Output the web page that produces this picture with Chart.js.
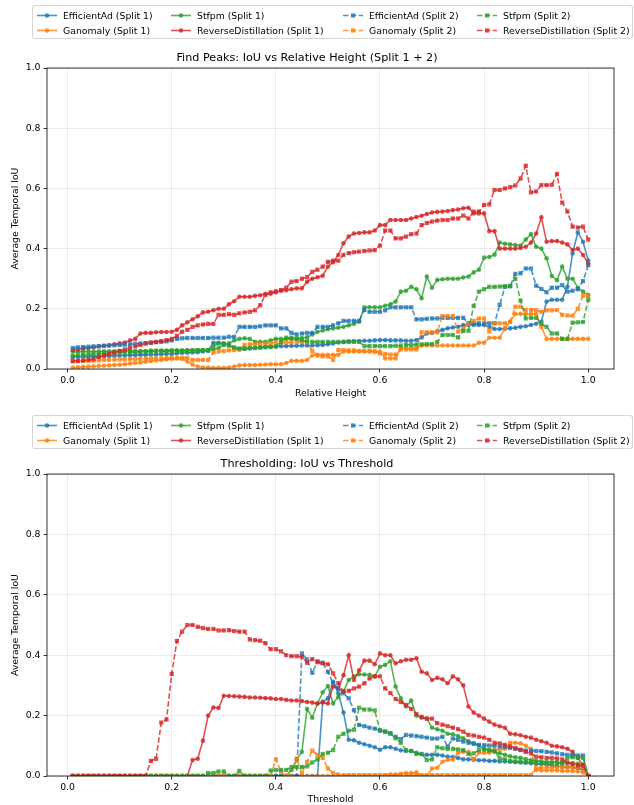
<!DOCTYPE html>
<html>
<head>
<meta charset="utf-8">
<script src="https://cdn.jsdelivr.net/npm/chart.js@4.4.1/dist/chart.umd.min.js"></script>
<style>
body { margin: 0; background: #fff; font-family: 'DejaVu Sans', sans-serif; }
#wrap { position: relative; width: 634px; height: 805px; overflow: hidden; }
canvas { position: absolute; left: 0; }
.legend { position: absolute; left: 32px; width: 601px; height: 34px; box-sizing: border-box;
  border: 1px solid rgba(204,204,204,0.8); border-radius: 3px; background: rgba(255,255,255,0.8); z-index: 2; }
.item { position: absolute; height: 11px; font-size: 9.3px; line-height: 11px; white-space: nowrap; color: #000; }
.item svg { position: absolute; left: 0; top: 0; }
.item span { position: absolute; left: 26px; top: 0; }
</style>
</head>
<body>
<div id="wrap">
  <canvas id="peaks" width="634" height="405" style="top:0"></canvas>
  <canvas id="thresh" width="634" height="400" style="top:405px"></canvas>
  <div class="legend" id="legend1" style="top:5px"></div>
  <div class="legend" id="legend2" style="top:415px"></div>
</div>
<script>
// x values (relative height / threshold)
var xs = [0.01,0.02,0.03,0.04,0.05,0.06,0.07,0.08,0.09,0.10,
  0.11,0.12,0.13,0.14,0.15,0.16,0.17,0.18,0.19,0.20,
  0.21,0.22,0.23,0.24,0.25,0.26,0.27,0.28,0.29,0.30,
  0.31,0.32,0.33,0.34,0.35,0.36,0.37,0.38,0.39,0.40,
  0.41,0.42,0.43,0.44,0.45,0.46,0.47,0.48,0.49,0.50,
  0.51,0.52,0.53,0.54,0.55,0.56,0.57,0.58,0.59,0.60,
  0.61,0.62,0.63,0.64,0.65,0.66,0.67,0.68,0.69,0.70,
  0.71,0.72,0.73,0.74,0.75,0.76,0.77,0.78,0.79,0.80,
  0.81,0.82,0.83,0.84,0.85,0.86,0.87,0.88,0.89,0.90,
  0.91,0.92,0.93,0.94,0.95,0.96,0.97,0.98,0.99,1.00];

var xTicks = [0.0, 0.2, 0.4, 0.6, 0.8, 1.0];
var yTicks = [0.0, 0.2, 0.4, 0.6, 0.8, 1.0];

var models = ['EfficientAd', 'Ganomaly', 'Stfpm', 'ReverseDistillation'];
var splits = ['Split 1', 'Split 2'];

// ---- Find Peaks: IoU vs Relative Height ----
var fpEffS1 = [0.040,0.040,0.041,0.041,0.042,0.042,0.043,0.043,0.044,0.045,
  0.045,0.046,0.046,0.047,0.047,0.048,0.048,0.049,0.050,0.050,
  0.052,0.053,0.054,0.055,0.056,0.058,0.060,0.087,0.087,0.085,
  0.080,0.068,0.066,0.067,0.068,0.070,0.072,0.074,0.075,0.075,
  0.076,0.076,0.077,0.077,0.078,0.078,0.078,0.079,0.080,0.082,
  0.085,0.088,0.090,0.092,0.093,0.093,0.094,0.094,0.095,0.096,
  0.096,0.095,0.095,0.095,0.094,0.094,0.096,0.105,0.118,0.120,
  0.125,0.130,0.135,0.138,0.140,0.146,0.146,0.146,0.146,0.146,
  0.140,0.133,0.133,0.134,0.135,0.137,0.140,0.142,0.146,0.150,
  0.157,0.224,0.230,0.230,0.230,0.273,0.384,0.454,0.423,0.360];
var fpGanS1 = [0.005,0.006,0.007,0.008,0.009,0.010,0.011,0.012,0.013,0.014,
  0.016,0.018,0.020,0.022,0.024,0.026,0.028,0.030,0.032,0.034,
  0.035,0.033,0.025,0.015,0.008,0.005,0.005,0.004,0.004,0.004,
  0.005,0.008,0.012,0.013,0.013,0.013,0.014,0.015,0.016,0.016,
  0.016,0.020,0.027,0.027,0.027,0.030,0.045,0.047,0.047,0.047,
  0.047,0.047,0.058,0.058,0.058,0.058,0.058,0.058,0.058,0.058,
  0.035,0.035,0.035,0.069,0.069,0.069,0.069,0.078,0.078,0.078,
  0.078,0.078,0.078,0.078,0.078,0.078,0.078,0.078,0.087,0.087,
  0.104,0.104,0.104,0.135,0.157,0.183,0.183,0.183,0.183,0.183,
  0.140,0.100,0.100,0.100,0.100,0.100,0.100,0.100,0.100,0.100];
var fpStfS1 = [0.057,0.057,0.058,0.058,0.058,0.058,0.059,0.059,0.059,0.060,
  0.060,0.060,0.060,0.060,0.060,0.061,0.061,0.061,0.061,0.062,
  0.062,0.062,0.062,0.062,0.063,0.063,0.063,0.065,0.070,0.080,
  0.085,0.095,0.100,0.102,0.100,0.090,0.090,0.090,0.095,0.100,
  0.100,0.100,0.100,0.102,0.103,0.105,0.115,0.124,0.128,0.132,
  0.135,0.137,0.140,0.145,0.150,0.157,0.205,0.205,0.205,0.205,
  0.210,0.215,0.224,0.257,0.260,0.273,0.265,0.235,0.307,0.270,
  0.296,0.298,0.300,0.300,0.300,0.304,0.307,0.321,0.330,0.370,
  0.372,0.380,0.420,0.416,0.414,0.412,0.410,0.430,0.448,0.406,
  0.400,0.368,0.309,0.295,0.340,0.300,0.300,0.270,0.257,0.246];
var fpRdS1 = [0.063,0.065,0.068,0.070,0.072,0.075,0.077,0.079,0.082,0.085,
  0.088,0.095,0.100,0.118,0.120,0.120,0.122,0.123,0.123,0.124,
  0.130,0.145,0.155,0.165,0.175,0.188,0.190,0.195,0.200,0.200,
  0.215,0.225,0.240,0.240,0.240,0.243,0.245,0.250,0.250,0.255,
  0.260,0.262,0.265,0.268,0.268,0.290,0.300,0.305,0.310,0.340,
  0.355,0.379,0.418,0.440,0.450,0.452,0.454,0.454,0.460,0.478,
  0.478,0.495,0.495,0.495,0.495,0.500,0.505,0.509,0.515,0.520,
  0.522,0.523,0.525,0.528,0.530,0.534,0.536,0.517,0.517,0.517,
  0.458,0.458,0.400,0.400,0.400,0.400,0.402,0.406,0.420,0.450,
  0.504,0.423,0.425,0.425,0.420,0.414,0.395,0.400,0.379,0.350];
var fpEffS2 = [0.070,0.072,0.073,0.074,0.075,0.076,0.077,0.078,0.079,0.080,
  0.081,0.082,0.084,0.085,0.086,0.087,0.089,0.090,0.092,0.095,
  0.100,0.102,0.103,0.103,0.103,0.103,0.103,0.104,0.104,0.104,
  0.107,0.107,0.140,0.140,0.140,0.140,0.142,0.145,0.145,0.145,
  0.135,0.135,0.120,0.115,0.118,0.120,0.120,0.140,0.140,0.140,
  0.145,0.152,0.160,0.160,0.160,0.160,0.196,0.190,0.190,0.190,
  0.195,0.205,0.205,0.205,0.205,0.205,0.165,0.165,0.167,0.168,
  0.168,0.170,0.170,0.170,0.170,0.170,0.152,0.152,0.152,0.152,
  0.152,0.152,0.213,0.273,0.275,0.316,0.318,0.334,0.334,0.277,
  0.266,0.255,0.270,0.270,0.279,0.257,0.260,0.265,0.292,0.345];
var fpGanS2 = [0.025,0.026,0.027,0.028,0.028,0.029,0.030,0.030,0.031,0.032,
  0.032,0.033,0.033,0.034,0.034,0.035,0.035,0.035,0.036,0.036,
  0.037,0.037,0.037,0.030,0.030,0.030,0.030,0.055,0.058,0.060,
  0.062,0.063,0.065,0.080,0.082,0.083,0.084,0.085,0.086,0.088,
  0.088,0.088,0.089,0.090,0.090,0.090,0.060,0.045,0.042,0.042,
  0.030,0.063,0.063,0.062,0.062,0.060,0.060,0.060,0.058,0.052,
  0.050,0.048,0.048,0.065,0.065,0.065,0.065,0.122,0.122,0.122,
  0.122,0.176,0.176,0.176,0.124,0.135,0.150,0.160,0.168,0.168,
  0.124,0.152,0.152,0.152,0.157,0.207,0.207,0.196,0.196,0.196,
  0.190,0.195,0.195,0.196,0.180,0.178,0.177,0.200,0.243,0.243];
var fpStfS2 = [0.043,0.045,0.047,0.048,0.050,0.051,0.052,0.053,0.054,0.055,
  0.055,0.056,0.056,0.057,0.057,0.058,0.058,0.059,0.059,0.060,
  0.060,0.060,0.061,0.061,0.062,0.062,0.063,0.075,0.085,0.082,
  0.078,0.072,0.068,0.068,0.070,0.070,0.071,0.072,0.073,0.075,
  0.090,0.104,0.104,0.100,0.096,0.092,0.090,0.090,0.090,0.090,
  0.090,0.090,0.090,0.090,0.090,0.090,0.076,0.076,0.076,0.076,
  0.076,0.076,0.077,0.078,0.080,0.080,0.081,0.082,0.083,0.083,
  0.090,0.113,0.113,0.113,0.105,0.127,0.127,0.210,0.257,0.265,
  0.273,0.273,0.274,0.275,0.276,0.300,0.227,0.168,0.170,0.170,
  0.150,0.140,0.118,0.118,0.100,0.100,0.154,0.155,0.156,0.230];
var fpRdS2 = [0.027,0.027,0.028,0.030,0.033,0.040,0.045,0.050,0.055,0.060,
  0.065,0.070,0.075,0.080,0.085,0.088,0.090,0.093,0.096,0.100,
  0.110,0.124,0.130,0.140,0.145,0.148,0.150,0.150,0.180,0.180,
  0.182,0.180,0.185,0.188,0.190,0.195,0.212,0.246,0.255,0.258,
  0.262,0.270,0.290,0.292,0.300,0.305,0.323,0.330,0.340,0.356,
  0.360,0.360,0.379,0.385,0.388,0.390,0.392,0.394,0.395,0.410,
  0.460,0.460,0.434,0.434,0.440,0.448,0.450,0.478,0.485,0.490,
  0.493,0.495,0.495,0.500,0.500,0.510,0.500,0.523,0.523,0.545,
  0.547,0.595,0.595,0.600,0.604,0.610,0.633,0.675,0.587,0.590,
  0.611,0.611,0.612,0.648,0.553,0.523,0.473,0.470,0.473,0.430];

// ---- Thresholding: IoU vs Threshold ----
var thEffS1 = [0,0,0,0,0,0,0,0,0,0,
  0,0,0,0,0,0,0,0,0,0,
  0,0,0,0,0,0,0,0,0,0,
  0,0,0,0,0,0,0,0,0,0,
  0,0,0,0,0,0,0,0,0.246,0.257,
  0.312,0.274,0.210,0.120,0.118,0.110,0.105,0.100,0.095,0.087,
  0.095,0.095,0.090,0.085,0.083,0.083,0.077,0.072,0.070,0.070,
  0.070,0.068,0.064,0.063,0.060,0.055,0.055,0.055,0.052,0.052,
  0.050,0.050,0.048,0.048,0.047,0.046,0.045,0.044,0.042,0.040,
  0.040,0.038,0.035,0.033,0.030,0.030,0.028,0.025,0.022,0.000];
var thGanS1 = [0,0,0,0,0,0,0,0,0,0,
  0,0,0,0,0,0,0,0,0,0,
  0,0,0,0,0,0,0,0,0,0,
  0,0,0,0,0,0,0,0,0,0,
  0,0,0,0,0,0,0,0,0,0,
  0,0,0,0,0,0,0,0,0,0,
  0.002,0.005,0.005,0.007,0.010,0.010,0.012,0.000,0.000,0.025,
  0.027,0.047,0.053,0.055,0.077,0.080,0.080,0.053,0.077,0.077,
  0.077,0.086,0.088,0.090,0.110,0.110,0.108,0.100,0.090,0.020,
  0.018,0.018,0.018,0.018,0.017,0.017,0.016,0.015,0.012,0.000];
var thStfS1 = [0,0,0,0,0,0,0,0,0,0,
  0,0,0,0,0,0,0,0,0,0,
  0,0,0,0,0,0,0,0,0,0,
  0,0,0,0,0,0,0,0,0,0,
  0,0,0.020,0.055,0.080,0.222,0.193,0.240,0.277,0.298,
  0.240,0.262,0.280,0.318,0.330,0.337,0.336,0.335,0.330,0.362,
  0.368,0.380,0.296,0.257,0.230,0.250,0.200,0.193,0.190,0.160,
  0.155,0.150,0.140,0.138,0.132,0.125,0.115,0.108,0.100,0.090,
  0.085,0.080,0.075,0.070,0.065,0.062,0.060,0.056,0.053,0.050,
  0.048,0.047,0.046,0.045,0.044,0.043,0.042,0.040,0.038,0.000];
var thRdS1 = [0,0,0,0,0,0,0,0,0,0,
  0,0,0,0,0,0,0,0,0,0,
  0,0,0,0.053,0.057,0.117,0.200,0.227,0.225,0.266,
  0.265,0.264,0.263,0.262,0.260,0.260,0.259,0.258,0.257,0.255,
  0.255,0.252,0.250,0.250,0.248,0.245,0.243,0.240,0.243,0.240,
  0.296,0.290,0.334,0.400,0.318,0.350,0.382,0.382,0.370,0.406,
  0.400,0.400,0.373,0.380,0.385,0.385,0.390,0.345,0.340,0.318,
  0.325,0.320,0.307,0.330,0.320,0.300,0.230,0.210,0.200,0.190,
  0.180,0.170,0.165,0.160,0.140,0.138,0.135,0.130,0.127,0.120,
  0.115,0.110,0.100,0.098,0.095,0.090,0.080,0.060,0.035,0.000];
var thEffS2 = [0,0,0,0,0,0,0,0,0,0,
  0,0,0,0,0,0,0,0,0,0,
  0,0,0,0,0,0,0,0,0,0,
  0,0,0,0,0,0,0,0,0,0,
  0,0,0,0,0.406,0.386,0.342,0.380,0.375,0.345,
  0.307,0.290,0.274,0.257,0.218,0.169,0.165,0.160,0.157,0.150,
  0.147,0.142,0.130,0.122,0.136,0.134,0.132,0.130,0.127,0.124,
  0.124,0.130,0.097,0.124,0.120,0.114,0.110,0.107,0.103,0.102,
  0.101,0.100,0.098,0.096,0.093,0.090,0.087,0.084,0.084,0.083,
  0.082,0.080,0.078,0.075,0.072,0.070,0.070,0.068,0.068,0.000];
var thGanS2 = [0,0,0,0,0,0,0,0,0,0,
  0,0,0,0,0,0,0,0,0,0,
  0,0,0,0,0,0,0,0,0,0,
  0,0,0,0,0,0,0,0,0,0.055,
  0.015,0.000,0.000,0.058,0.010,0.047,0.084,0.070,0.060,0.025,
  0.010,0.005,0.003,0.003,0.003,0.003,0.003,0.003,0.003,0.003,
  0.003,0.003,0.003,0.003,0.003,0.003,0.003,0.003,0.003,0.003,
  0.003,0.003,0.003,0.003,0.003,0.003,0.003,0.003,0.003,0.003,
  0.003,0.003,0.003,0.003,0.003,0.003,0.003,0.003,0.003,0.025,
  0.027,0.028,0.028,0.028,0.030,0.030,0.030,0.030,0.028,0.000];
var thStfS2 = [0,0,0,0,0,0,0,0,0,0,
  0,0,0,0,0,0,0,0,0,0,
  0,0,0,0,0,0,0.010,0.010,0.015,0.015,
  0.000,0.000,0.017,0.000,0.000,0.000,0.000,0.000,0.018,0.020,
  0.020,0.020,0.030,0.030,0.030,0.032,0.045,0.055,0.073,0.077,
  0.086,0.130,0.140,0.150,0.153,0.226,0.220,0.220,0.217,0.152,
  0.147,0.140,0.125,0.110,0.086,0.083,0.073,0.073,0.053,0.055,
  0.095,0.092,0.090,0.090,0.088,0.086,0.073,0.075,0.086,0.088,
  0.086,0.083,0.058,0.055,0.050,0.048,0.047,0.046,0.045,0.045,
  0.044,0.043,0.042,0.042,0.042,0.060,0.062,0.062,0.060,0.000];
var thRdS2 = [0,0,0,0,0,0,0,0,0,0,
  0,0,0,0,0,0.050,0.057,0.177,0.187,0.338,
  0.447,0.478,0.500,0.500,0.494,0.490,0.487,0.487,0.482,0.482,
  0.483,0.480,0.478,0.478,0.452,0.450,0.448,0.440,0.420,0.420,
  0.413,0.400,0.397,0.397,0.395,0.375,0.387,0.377,0.373,0.370,
  0.340,0.307,0.280,0.282,0.290,0.296,0.307,0.323,0.330,0.330,
  0.290,0.275,0.255,0.245,0.235,0.222,0.205,0.196,0.190,0.190,
  0.175,0.170,0.165,0.160,0.155,0.147,0.136,0.134,0.130,0.127,
  0.120,0.110,0.108,0.103,0.098,0.092,0.086,0.080,0.075,0.064,
  0.062,0.060,0.060,0.058,0.055,0.045,0.040,0.035,0.035,0.000];

var colors = ['rgba(31,119,180,0.8)', 'rgba(255,127,14,0.8)', 'rgba(44,160,44,0.8)', 'rgba(214,39,40,0.8)'];
var font = { family: 'DejaVu Sans', size: 9.3 };
var gridColor = 'rgba(176,176,176,0.3)';

// plot order = legend order (column major, 4 columns)
function buildDatasets(s1, s2) {
  var sets = [];
  var all = [s1, s2];
  for (var s = 0; s < 2; s++) {
    for (var m = 0; m < 4; m++) {
      var vals = all[s][m];
      sets.push({
        label: models[m] + ' (' + splits[s] + ')',
        data: xs.map(function (x, i) { return { x: x, y: vals[i] }; }),
        borderColor: colors[m],
        backgroundColor: colors[m],
        pointBackgroundColor: colors[m],
        borderWidth: 1.6,
        borderDash: s == 1 ? [5.5, 2.4] : [],
        pointStyle: s == 1 ? 'rect' : 'circle',
        pointRadius: s == 1 ? 3.0 : 2.3,
        pointBorderWidth: 0,
        tension: 0,
        order: 8 - sets.length
      });
    }
  }
  return sets;
}

var framePlugin = {
  id: 'frame',
  afterDraw: function (chart) {
    var a = chart.chartArea, ctx = chart.ctx;
    ctx.save();
    ctx.strokeStyle = '#000';
    ctx.lineWidth = 0.8;
    ctx.strokeRect(a.left, a.top, a.right - a.left, a.bottom - a.top);
    ctx.restore();
  }
};

function makeChart(id, title, xTitle, datasets, padTop, xHeight, xTitlePad) {
  var ctx = document.getElementById(id).getContext('2d');
  return new Chart(ctx, {
    type: 'line',
    data: { datasets: datasets },
    plugins: [framePlugin],
    options: {
      responsive: false,
      animation: false,
      devicePixelRatio: 1,
      layout: { padding: { left: 0, right: 20, top: padTop, bottom: 0 } },
      plugins: {
        legend: { display: false },
        tooltip: { enabled: false },
        title: {
          display: true, text: title, color: '#000',
          font: { family: 'DejaVu Sans', size: 11.2, weight: 'normal' },
          padding: { top: 6.3, bottom: 3.3 }
        }
      },
      scales: {
        x: {
          type: 'linear', min: -0.0395, max: 1.0495,
          afterBuildTicks: function (s) { s.ticks = xTicks.map(function (v) { return { value: v }; }); },
          afterFit: function (s) { s.height = xHeight; },
          ticks: { font: font, color: '#000', padding: 3, maxRotation: 0, autoSkip: false,
            callback: function (v) { return v.toFixed(1); } },
          grid: { color: gridColor, lineWidth: 0.8, tickColor: '#000', tickLength: 3.5, tickWidth: 0.8 },
          border: { display: false },
          title: { display: true, text: xTitle, color: '#000', font: font, padding: { top: 0, bottom: xTitlePad } }
        },
        y: {
          min: 0, max: 1,
          afterBuildTicks: function (s) { s.ticks = yTicks.map(function (v) { return { value: v }; }); },
          afterFit: function (s) { s.width = 47; },
          ticks: { font: font, color: '#000', padding: 3, autoSkip: false,
            callback: function (v) { return v.toFixed(1); } },
          grid: { color: gridColor, lineWidth: 0.8, tickColor: '#000', tickLength: 3.5, tickWidth: 0.8 },
          border: { display: false },
          title: { display: true, text: 'Average Temporal IoU', color: '#000', font: font, padding: { top: 9.8, bottom: 0 } }
        }
      }
    }
  });
}

var peaksSets = buildDatasets([fpEffS1, fpGanS1, fpStfS1, fpRdS1], [fpEffS2, fpGanS2, fpStfS2, fpRdS2]);
var threshSets = buildDatasets([thEffS1, thGanS1, thStfS1, thRdS1], [thEffS2, thGanS2, thStfS2, thRdS2]);

makeChart('peaks', 'Find Peaks: IoU vs Relative Height (Split 1 + 2)', 'Relative Height', peaksSets, 45, 36, 5.6);
makeChart('thresh', 'Thresholding: IoU vs Threshold', 'Threshold', threshSets, 46, 29, 0);

// matplotlib style legend, 4 columns filled column by column
var colX = [4, 138, 310, 444];
var rowY = [4, 19];

function handleSvg(color, dashed) {
  var marker = dashed
    ? '<rect x="8" y="3.4" width="4.2" height="4.2" fill="' + color + '"/>'
    : '<circle cx="10" cy="5.5" r="2.3" fill="' + color + '"/>';
  return '<svg width="20" height="11"><line x1="0" y1="5.5" x2="20" y2="5.5" stroke="' + color +
    '" stroke-width="1.6"' + (dashed ? ' stroke-dasharray="5.5,2.4"' : '') + '/>' + marker + '</svg>';
}

function buildLegend(id, sets) {
  var box = document.getElementById(id);
  for (var i = 0; i < sets.length; i++) {
    var d = sets[i];
    var item = document.createElement('div');
    item.className = 'item';
    item.style.left = colX[Math.floor(i / 2)] + 'px';
    item.style.top = rowY[i % 2] + 'px';
    item.innerHTML = handleSvg(d.borderColor, d.borderDash.length > 0) + '<span>' + d.label + '</span>';
    box.appendChild(item);
  }
}

buildLegend('legend1', peaksSets);
buildLegend('legend2', threshSets);
</script>
</body>
</html>
